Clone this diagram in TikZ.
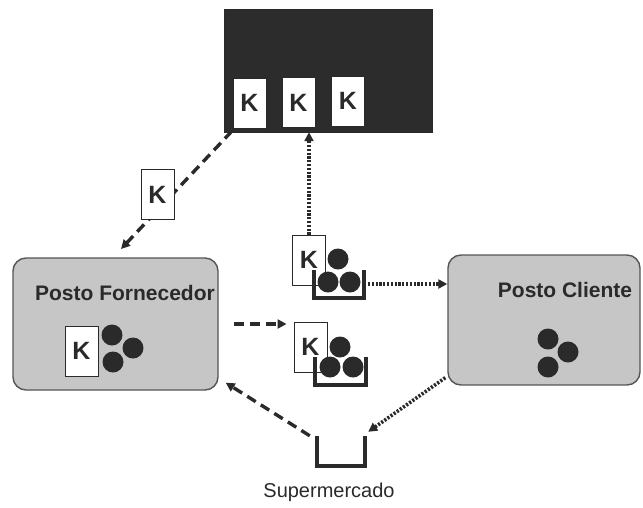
\documentclass[tikz,border=0pt]{standalone}
\usepackage{fontspec}
\setmainfont{Liberation Sans}
\usetikzlibrary{arrows.meta,calc}
\definecolor{ink}{HTML}{2A2A2A}
\definecolor{board}{HTML}{2C2C2C}
\definecolor{station}{HTML}{C6C6C6}
\definecolor{edge}{HTML}{555555}
\tikzset{
  boardbox/.style={draw=ink,fill=board,minimum width=208pt,minimum height=123pt,inner sep=0pt},
  stationbox/.style={draw=edge,line width=1.4pt,fill=station,rounded corners=13pt,inner sep=0pt},
  card/.style={draw=ink,line width=0.9pt,fill=white,minimum width=33pt,minimum height=50pt,inner sep=0pt,
    font=\fontsize{25}{27}\selectfont\bfseries,text=ink},
  ball/.style={circle,fill=ink,minimum size=21pt,inner sep=0pt},
  bin/.style={minimum width=50pt,minimum height=28pt,inner sep=0pt},
  binline/.style={draw=ink,line width=3.8pt,line join=miter},
  label/.style={font=\fontsize{21}{24}\selectfont\bfseries,text=ink,inner sep=0pt},
  flowdash/.style={draw=ink,line width=3.4pt,dash pattern=on 10pt off 6pt,
    -{Triangle[length=9pt,width=9pt]}},
  flowdot/.style={draw=ink,line width=3.6pt,dash pattern=on 2.2pt off 1.6pt,
    -{Triangle[length=9pt,width=9pt]}}
}
\begin{document}
\begin{tikzpicture}[x=1pt,y=-1pt]
\useasboundingbox (0,0) rectangle (643,507);

% kanban board with three cards
\node[boardbox] (board) at (328,70.5) {};
\node[card] (b1) at (249.5,103) {K};
\node[card] (b2) at (298.5,102.5) {K};
\node[card] (b3) at (348,101) {K};

% supplier station
\node[stationbox,minimum width=205pt,minimum height=132pt] (forn) at (115.5,324) {};
\node[label] (fornlab) at (125,293) {Posto Fornecedor};
\node[card] (fcard) at (81.5,351) {K};
\node[ball] (f1) at (112,335) {};
\node[ball] (f2) at (133,348) {};
\node[ball] (f3) at (113,362) {};

% customer station
\node[stationbox,minimum width=192pt,minimum height=130pt] (cli) at (544,320) {};
\node[label] (clilab) at (565,290) {Posto Cliente};
\node[ball] (c1) at (548,339) {};
\node[ball] (c2) at (568,352) {};
\node[ball] (c3) at (548,367) {};

% withdrawal kanban with container
\node[card] (cardA) at (309,260) {K};
\node[bin] (binA) at (339,284) {};
\node[ball] (a1) at (338,259) {};
\node[ball] (a2) at (328,282) {};
\node[ball] (a3) at (350,282) {};
\draw[binline] (binA.north west) |- (binA.south east) -- (binA.north east);

% production kanban with container
\node[card] (cardB) at (310.5,347) {K};
\node[bin] (binB) at (340.5,371) {};
\node[ball] (p1) at (340,347) {};
\node[ball] (p2) at (330,367) {};
\node[ball] (p3) at (353,367) {};
\draw[binline] (binB.north west) |- (binB.south east) -- (binB.north east);

% supermarket
\node[bin,minimum width=48pt,minimum height=30pt] (super) at (341,451) {};
\draw[binline] (super.north west) |- (super.south east) -- (super.north east);
\node[font=\fontsize{20}{22}\selectfont,text=ink] (superlab) at (329,492) {Supermercado};

% flows
\coordinate (kin) at (121,249);
\draw[flowdash] ([xshift=8pt,yshift=1pt]board.south west) -- (kin);
\node[card] (kcard) at (157.5,194.5) {K};

\draw[flowdot] (cardA.north) -- (cardA.north |- board.south);
\draw[flowdot] (binA.east) -- (binA.east -| cli.west);
\draw[flowdash,shorten <=15pt,shorten >=7pt] (forn.east) -- (forn.east -| cardB.west);
\draw[flowdash] ([xshift=-7pt]super.north west) -- ($(forn.south east)+(7,-8)$);
\draw[flowdot] ($(cli.south west)+(-2,-8)$) -- ($(super.north east)+(3,-4)$);
\end{tikzpicture}
\end{document}
